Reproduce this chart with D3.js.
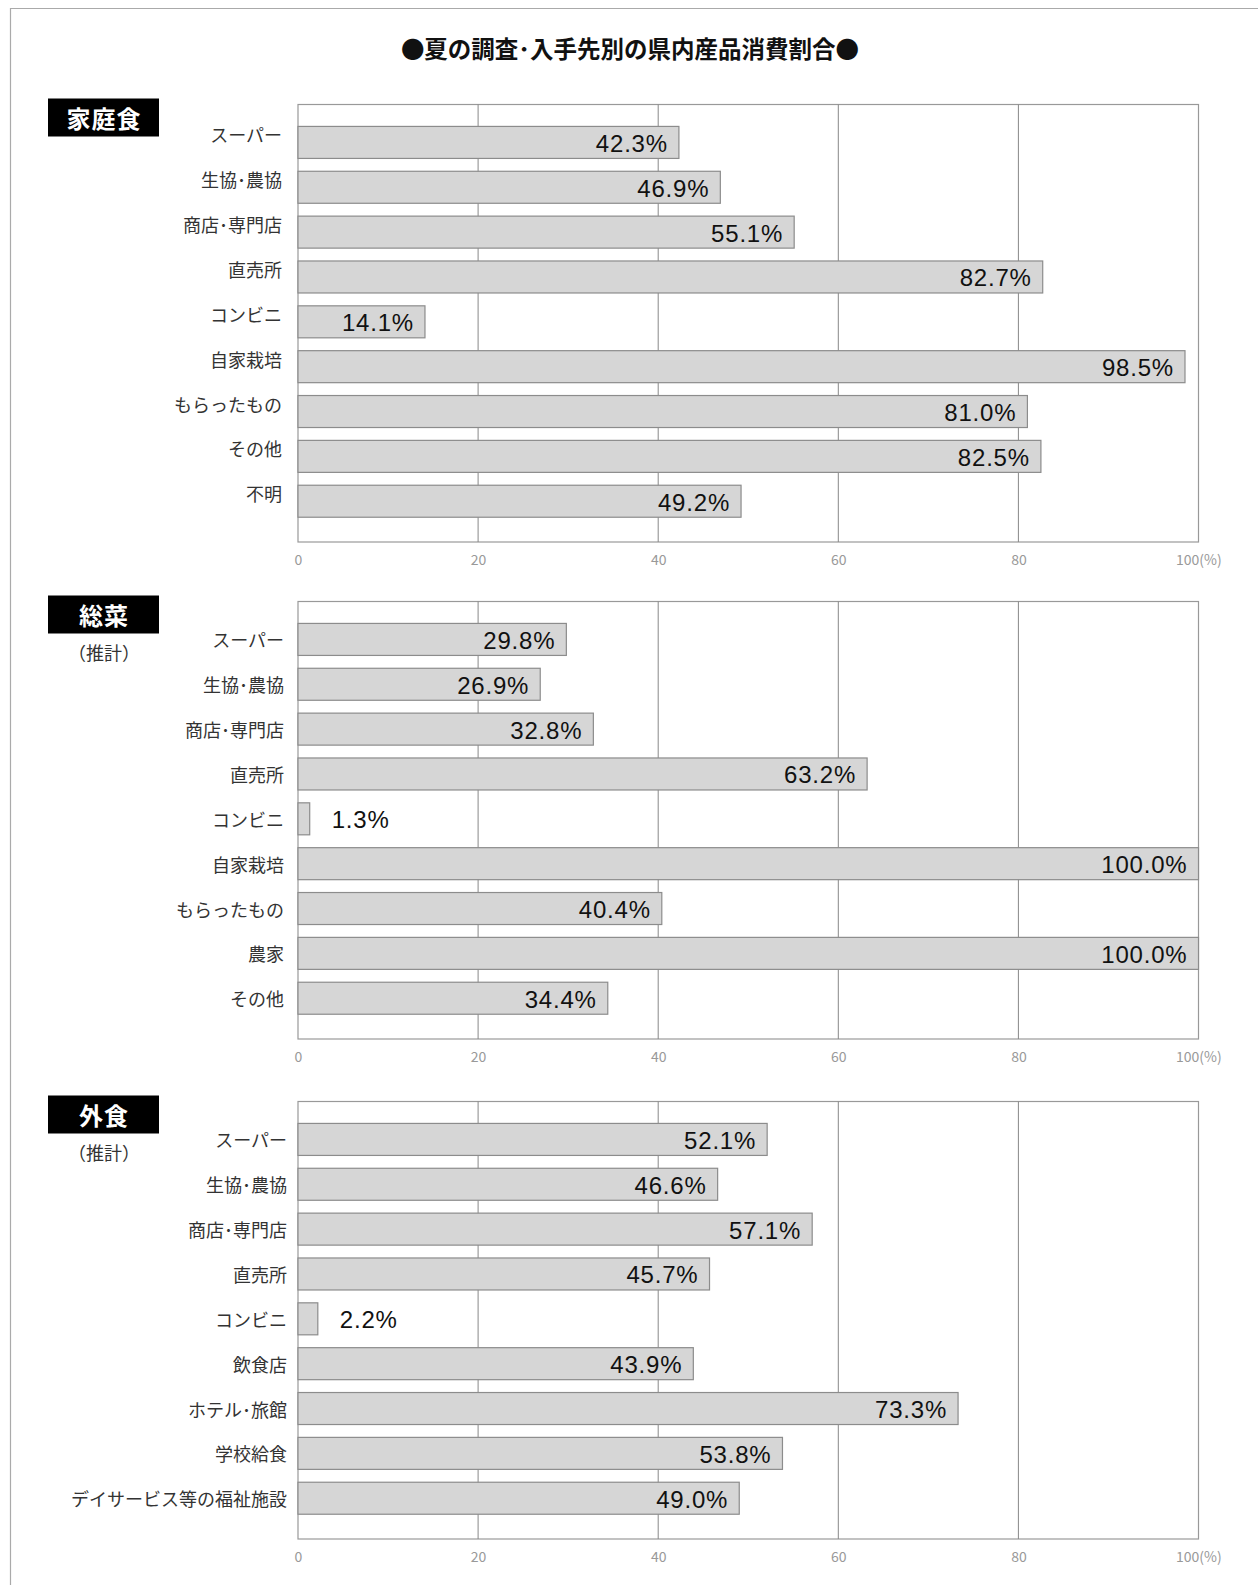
<!DOCTYPE html>
<html>
<head>
<meta charset="utf-8">
<script src="https://cdn.jsdelivr.net/npm/d3@7"></script>
<style>
  html, body { margin: 0; padding: 0; background: #fff; }
  svg { display: block; }
</style>
</head>
<body>
<script>
// Survey data: share (%) of in-prefecture produce consumed, by where it was obtained
const chartTitle = "●夏の調査･入手先別の県内産品消費割合●";

const homeCategories = ["スーパー", "生協･農協", "商店･専門店", "直売所", "コンビニ", "自家栽培", "もらったもの", "その他", "不明"];
const homeValues = [42.3, 46.9, 55.1, 82.7, 14.1, 98.5, 81.0, 82.5, 49.2];

const deliCategories = ["スーパー", "生協･農協", "商店･専門店", "直売所", "コンビニ", "自家栽培", "もらったもの", "農家", "その他"];
const deliValues = [29.8, 26.9, 32.8, 63.2, 1.3, 100.0, 40.4, 100.0, 34.4];

const eatOutCategories = ["スーパー", "生協･農協", "商店･専門店", "直売所", "コンビニ", "飲食店", "ホテル･旅館", "学校給食", "デイサービス等の福祉施設"];
const eatOutValues = [52.1, 46.6, 57.1, 45.7, 2.2, 43.9, 73.3, 53.8, 49.0];

const panelTitles = ["家庭食", "総菜", "外食"];
const panelNotes = ["", "（推計）", "（推計）"];
const xTicks = [0, 20, 40, 60, 80, 100];

const panels = [
  { title: panelTitles[0], note: panelNotes[0], cats: homeCategories, vals: homeValues },
  { title: panelTitles[1], note: panelNotes[1], cats: deliCategories, vals: deliValues },
  { title: panelTitles[2], note: panelNotes[2], cats: eatOutCategories, vals: eatOutValues }
];

const W = 1258, H = 1585;
const JP = "'Noto Sans CJK JP', 'Noto Sans', sans-serif";
const NUM = "'Liberation Sans', Arial, sans-serif";

const svg = d3.select("body").append("svg")
  .attr("width", W).attr("height", H);

// outer frame (top and left edges)
svg.append("path")
  .attr("d", `M10.5,${H} L10.5,8.5 L${W},8.5`)
  .attr("fill", "none").attr("stroke", "#aaa").attr("stroke-width", 1.2);

svg.append("text")
  .attr("x", 630).attr("y", 48)
  .attr("text-anchor", "middle").attr("dominant-baseline", "central")
  .attr("font-family", JP).attr("font-weight", 700).attr("font-size", 23.5)
  .attr("fill", "#111")
  .text(chartTitle);

const x = d3.scaleLinear().domain([0, 100]).range([298, 1198.5]);
const plotH = 437.5;
const panelTops = [104.5, 601.5, 1101.5];
const labelRight = [282, 284, 287];
const labelShift = [-8, 0, 0];

panels.forEach((p, i) => {
  const top = panelTops[i];
  const g = svg.append("g");

  const y = d3.scaleBand()
    .domain(p.cats)
    .range([top + 15.5, top + 15.5 + 9 * 44.85])
    .paddingInner(0.2865)
    .paddingOuter(0.1432);

  // panel heading box
  g.append("rect")
    .attr("x", 48).attr("y", top - 6).attr("width", 111).attr("height", 38)
    .attr("fill", "#000");
  g.append("text")
    .attr("x", 104).attr("y", top + 13)
    .attr("text-anchor", "middle").attr("dominant-baseline", "central")
    .attr("font-family", JP).attr("font-weight", 700).attr("font-size", 24)
    .attr("fill", "#fff").attr("letter-spacing", 1)
    .text(p.title);
  if (p.note) {
    g.append("text")
      .attr("x", 104).attr("y", top + 50)
      .attr("text-anchor", "middle").attr("dominant-baseline", "central")
      .attr("font-family", JP).attr("font-size", 18).attr("fill", "#333")
      .text(p.note);
  }

  // plot frame and vertical gridlines
  g.append("rect")
    .attr("x", x(0)).attr("y", top)
    .attr("width", x(100) - x(0)).attr("height", plotH)
    .attr("fill", "#fff").attr("stroke", "#999").attr("stroke-width", 1.2);
  g.selectAll("line.grid")
    .data(xTicks.slice(1, -1))
    .join("line")
    .attr("class", "grid")
    .attr("x1", d => x(d)).attr("x2", d => x(d))
    .attr("y1", top).attr("y2", top + plotH)
    .attr("stroke", "#888").attr("stroke-width", 1);

  // bars
  const data = p.cats.map((c, j) => ({ c, v: p.vals[j] }));
  g.selectAll("rect.bar")
    .data(data)
    .join("rect")
    .attr("class", "bar")
    .attr("x", x(0))
    .attr("y", d => y(d.c))
    .attr("width", d => x(d.v) - x(0))
    .attr("height", y.bandwidth())
    .attr("fill", "#d6d6d6").attr("stroke", "#8c8c8c").attr("stroke-width", 1.2);

  // value labels: inside the bar end, or just outside when the bar is short
  g.selectAll("text.val")
    .data(data)
    .join("text")
    .attr("class", "val")
    .attr("x", d => d.v < 8 ? x(d.v) + 22 : x(d.v) - 11)
    .attr("y", d => y(d.c) + y.bandwidth() / 2 + 1)
    .attr("text-anchor", d => d.v < 8 ? "start" : "end")
    .attr("dominant-baseline", "central")
    .attr("font-family", NUM).attr("font-size", 24).attr("letter-spacing", 0.8)
    .attr("fill", "#111")
    .text(d => d3.format(".1f")(d.v) + "%");

  // category labels
  g.selectAll("text.cat")
    .data(p.cats)
    .join("text")
    .attr("class", "cat")
    .attr("x", labelRight[i])
    .attr("y", d => y(d) + y.bandwidth() / 2 + labelShift[i])
    .attr("text-anchor", "end").attr("dominant-baseline", "central")
    .attr("font-family", JP).attr("font-size", 18).attr("fill", "#333")
    .text(d => d);

  // x axis tick labels
  const axis = d3.axisBottom(x)
    .tickValues(xTicks)
    .tickSize(0)
    .tickPadding(0)
    .tickFormat(d => d === 100 ? "100(%)" : String(d));
  const ax = g.append("g")
    .attr("transform", `translate(0,${top + plotH + 18})`)
    .call(axis);
  ax.select(".domain").remove();
  ax.selectAll("text")
    .attr("font-family", JP).attr("font-size", 14).attr("fill", "#999")
    .attr("dy", "0.35em").attr("y", 0);
  ax.selectAll(".tick").filter(d => d === 100).select("text")
    .attr("text-anchor", "start").attr("x", -23);
});
</script>
</body>
</html>
